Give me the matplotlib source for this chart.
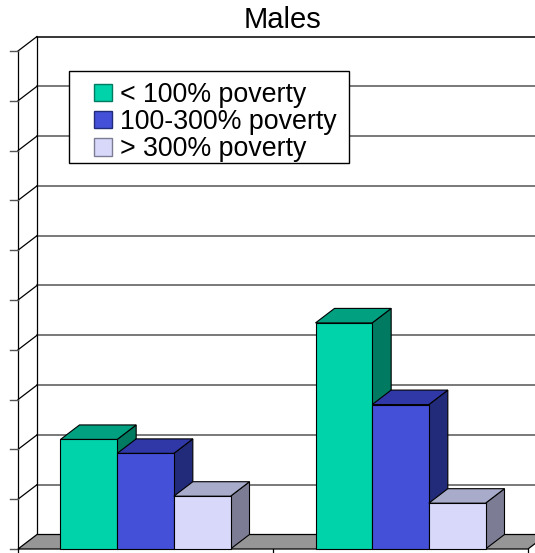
import matplotlib
matplotlib.use("Agg")
import matplotlib.pyplot as plt
from matplotlib.patches import Polygon, Rectangle, Patch
from matplotlib.legend_handler import HandlerPatch

plt.rcParams["font.family"] = ["Liberation Sans", "DejaVu Sans"]

# share of males in each poverty band, per group
groups = ["Group 1", "Group 2"]
series = ["< 100% poverty", "100-300% poverty", "> 300% poverty"]
values = [
    [11.0, 22.7],   # < 100% poverty
    [9.6, 14.5],    # 100-300% poverty
    [5.3, 4.6],     # > 300% poverty
]
y_ticks = [0, 5, 10, 15, 20, 25, 30, 35, 40, 45, 50]

front = ["#00D2AA", "#4450D8", "#D8D8FA"]
top = ["#00A080", "#3038A8", "#A8ACCA"]
side = ["#007A60", "#222A7A", "#7C7C94"]

W, H = 535, 553
fig = plt.figure(figsize=(W / 100, H / 100), dpi=100)
ax = fig.add_axes([0, 0, 1, 1])

# pixel scale of the plot: one category = 255 px, 5 units = 49.8 px
px_x = 255.0
px_y = 49.8 / 5
x_left = -0.5 - 18 / px_x
ax.set_xlim(x_left, x_left + W / px_x)
ax.set_ylim(-4 / px_y, (H - 4) / px_y)
ax.axis("off")

# depth offset of the 3d box
dx = 19 / px_x
dy = 14.5 / px_y
x0, x1 = -0.5, len(groups) - 0.5
ymax = y_ticks[-1]
grid_col = "#555555"

# floor
ax.add_patch(Polygon([(x0, 0), (x1, 0), (x1 + dx, dy), (x0 + dx, dy)],
                     closed=True, facecolor="#969696", edgecolor="black",
                     lw=0.9, zorder=2))

# back wall gridlines and side wall diagonals
for v in y_ticks[1:]:
    lc = "black" if v == ymax else grid_col
    ax.plot([x0 + dx, x1 + dx], [v + dy, v + dy], color=lc, lw=1.1, zorder=1)
    ax.plot([x0, x0 + dx], [v, v + dy], color="black", lw=0.9, zorder=1)
ax.plot([x0 + dx, x0 + dx], [dy, ymax + dy], color="black", lw=0.9, zorder=1)
ax.plot([x0, x0], [0, ymax], color="black", lw=0.9, zorder=1)

# value axis ticks
tick_len = 8 / px_x
for v in y_ticks:
    ax.plot([x0 - tick_len, x0], [v, v], color=grid_col, lw=1.0, zorder=1)

# category ticks below the floor
for xc in range(len(groups) + 1):
    ax.plot([x0 + xc, x0 + xc], [0, -4 / px_y], color="black", lw=0.9,
            zorder=1)

# bars
gap = 42.5 / px_x
bw = (1 - 2 * gap) / len(series)
for gi in range(len(groups)):
    for si in range(len(series)):
        v = values[si][gi]
        bx = gi - 0.5 + gap + si * bw
        z = 3 + gi * 10 + si
        ax.add_patch(Polygon([(bx + bw, 0), (bx + bw + dx, dy),
                              (bx + bw + dx, v + dy), (bx + bw, v)],
                             closed=True, facecolor=side[si],
                             edgecolor="black", lw=0.8, zorder=z))
        ax.add_patch(Polygon([(bx, v), (bx + bw, v), (bx + bw + dx, v + dy),
                              (bx + dx, v + dy)],
                             closed=True, facecolor=top[si],
                             edgecolor="black", lw=0.8, zorder=z))
        ax.add_patch(Rectangle((bx, 0), bw, v, facecolor=front[si],
                               edgecolor="black", lw=0.8, zorder=z))

fig.text(282 / W, 1 - 28 / H, "Males", fontsize=21, ha="center",
         va="baseline")


def square_key(legend, orig_handle, xdescent, ydescent, width, height,
               fontsize):
    # small square pushed to the right end of the handle box
    s = 0.64 * fontsize
    return Rectangle((-xdescent + width - s, -ydescent + (height - s) / 2),
                     s, s)


# legend box drawn on its own so it can be tighter than the legend padding
fig.add_artist(Rectangle((69 / W, 1 - 163 / H), 280 / W, 92 / H,
                         transform=fig.transFigure, facecolor="white",
                         edgecolor="black", lw=1.0, zorder=3))

handles = [Patch(facecolor=front[i], edgecolor=side[i], lw=1.0)
           for i in range(len(series))]
leg = fig.legend(handles, series, loc="upper left",
                 bbox_to_anchor=(69 / W, 1 - 71 / H), fontsize=19.3,
                 frameon=False,
                 handler_map={Patch: HandlerPatch(patch_func=square_key)},
                 handlelength=1.19, handleheight=0.7, handletextpad=0.3,
                 labelspacing=0.05, borderpad=0.4, borderaxespad=0)
leg.set_zorder(4)

fig.savefig("out.png", dpi=100)
